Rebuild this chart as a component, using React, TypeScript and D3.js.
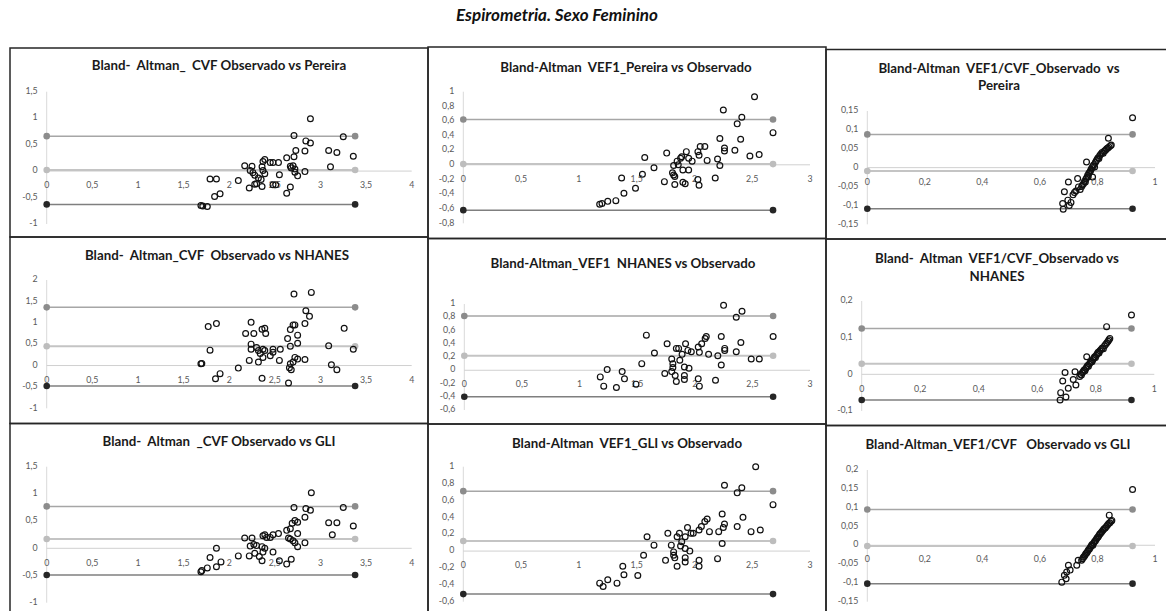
import React from "react";
import * as d3 from "d3";

type Pt = [number, number];

// ---- data: [mean, difference] pairs, and limits [upper LoA, mean diff, lower LoA] ----
const cvfPereira: Pt[] = [
  [2.89, 0.99], [2.71, 0.67], [3.25, 0.65], [2.84, 0.57], [2.89, 0.53], [2.73, 0.39], [2.83, 0.38],
  [3.09, 0.39], [3.18, 0.35], [3.36, 0.28], [2.63, 0.25], [2.71, 0.27], [3.11, 0.08], [2.67, 0.09],
  [2.68, 0.06], [2.7, 0.1], [2.72, 0.04], [2.83, -0.01], [2.75, -0.09], [2.72, -0.02], [2.17, 0.1],
  [2.25, 0.09], [2.37, 0.18], [2.39, 0.22], [2.45, 0.16], [2.48, 0.16], [2.54, 0.16], [2.23, 0.01],
  [2.26, -0.03], [2.28, -0.08], [2.32, -0.13], [2.36, 0.08], [2.37, 0.01], [2.39, -0.05], [2.35, -0.16],
  [2.3, -0.24], [2.28, -0.25], [2.22, -0.32], [2.36, -0.29], [2.1, -0.18], [2.48, -0.26], [2.51, -0.26],
  [2.55, -0.07], [2.67, -0.3], [2.63, -0.42], [1.79, -0.15], [1.86, -0.15], [1.84, -0.48], [1.9, -0.43],
  [1.69, -0.65], [1.71, -0.66], [1.76, -0.67],
];
const cvfPereiraLimits = [0.66, 0.02, -0.63];

const cvfNhanes: Pt[] = [
  [2.9, 1.71], [2.71, 1.67], [2.84, 1.28], [2.88, 1.15], [2.83, 0.98], [2.7, 0.95], [2.72, 0.95],
  [2.67, 0.84], [3.26, 0.87], [2.75, 0.71], [2.64, 0.63], [2.75, 0.52], [2.67, 0.45], [3.09, 0.46],
  [3.36, 0.38], [2.72, 0.19], [2.75, 0.15], [2.83, 0.14], [2.7, 0.08], [2.67, 0.04], [2.66, -0.05],
  [2.68, -0.1], [3.12, 0.02], [3.18, -0.1], [2.65, -0.41], [1.77, 0.91], [1.86, 0.98], [2.24, 1.01],
  [2.18, 0.75], [2.27, 0.75], [2.36, 0.85], [2.39, 0.87], [2.4, 0.75], [2.24, 0.5], [2.24, 0.38],
  [2.3, 0.42], [2.32, 0.35], [2.37, 0.38], [2.39, 0.35], [2.34, 0.28], [2.37, 0.19], [2.45, 0.23],
  [2.48, 0.31], [2.48, 0.38], [2.56, 0.38], [2.55, 0.12], [2.22, 0.12], [2.32, 0.08], [1.79, 0.36],
  [1.7, 0.05], [1.69, 0.04], [2.1, -0.06], [1.9, -0.19], [1.85, -0.31], [2.36, -0.3],
];
const cvfNhanesLimits = [1.36, 0.45, -0.48];

const cvfGli: Pt[] = [
  [2.9, 1.02], [2.71, 0.75], [3.25, 0.75], [2.84, 0.73], [2.89, 0.7], [2.83, 0.57], [2.72, 0.51],
  [2.75, 0.48], [2.69, 0.46], [3.09, 0.47], [3.18, 0.47], [3.36, 0.41], [2.63, 0.33], [2.67, 0.36],
  [2.75, 0.27], [3.13, 0.25], [2.65, 0.19], [2.67, 0.17], [2.7, 0.14], [2.72, 0.1], [2.83, 0.1],
  [2.75, 0.03], [2.17, 0.19], [2.25, 0.19], [2.37, 0.23], [2.39, 0.25], [2.41, 0.2], [2.45, 0.2],
  [2.48, 0.25], [2.54, 0.27], [2.23, 0.04], [2.27, 0.07], [2.3, 0.05], [2.36, 0.03], [2.39, 0.0],
  [2.37, -0.07], [2.33, -0.15], [2.28, -0.09], [2.22, -0.14], [2.36, -0.23], [2.1, -0.14], [2.48, -0.07],
  [2.55, -0.23], [2.63, -0.29], [2.68, -0.2], [1.86, 0.0], [1.79, -0.17], [1.91, -0.25], [1.86, -0.34],
  [1.76, -0.36], [1.7, -0.41], [1.69, -0.43],
];
const cvfGliLimits = [0.77, 0.17, -0.49];

const vef1Pereira: Pt[] = [
  [2.52, 0.93], [2.25, 0.75], [2.41, 0.65], [2.37, 0.56], [2.68, 0.44], [2.22, 0.36], [2.4, 0.35],
  [2.26, 0.23], [2.26, 0.19], [2.35, 0.2], [2.48, 0.12], [2.56, 0.14], [2.2, 0.08], [2.22, -0.01],
  [2.18, -0.18], [2.05, 0.25], [2.09, 0.25], [2.03, 0.18], [2.04, 0.13], [2.11, 0.06], [1.93, 0.18],
  [1.88, 0.09], [1.89, 0.11], [1.95, 0.09], [1.98, 0.05], [1.85, 0.05], [1.86, 0.0], [1.82, -0.01],
  [1.9, -0.07], [1.95, -0.07], [1.81, -0.11], [1.82, -0.14], [1.83, -0.16], [2.03, -0.2], [1.9, -0.24],
  [1.92, -0.26], [1.83, -0.27], [1.74, -0.23], [2.04, -0.28], [1.76, 0.16], [1.57, 0.1], [1.65, -0.04],
  [1.55, -0.13], [1.37, -0.18], [1.49, -0.32], [1.39, -0.39], [1.32, -0.49], [1.25, -0.5], [1.2, -0.53],
  [1.18, -0.54],
];
const vef1PereiraLimits = [0.62, 0.01, -0.62];

const vef1Nhanes: Pt[] = [
  [2.25, 0.98], [2.41, 0.89], [2.36, 0.8], [2.68, 0.51], [2.23, 0.51], [2.1, 0.51], [2.09, 0.48],
  [2.06, 0.4], [2.03, 0.35], [2.4, 0.42], [2.26, 0.33], [2.26, 0.3], [2.36, 0.28], [2.12, 0.24],
  [2.2, 0.22], [2.23, 0.08], [2.49, 0.17], [2.56, 0.17], [2.18, -0.15], [2.04, 0.27], [1.97, 0.28],
  [1.92, 0.4], [1.86, 0.33], [1.84, 0.33], [1.76, 0.4], [1.94, 0.3], [1.89, 0.24], [1.87, 0.15],
  [1.8, 0.17], [1.81, 0.1], [1.81, 0.04], [1.8, -0.02], [1.91, 0.05], [1.95, 0.03], [1.74, -0.05],
  [1.83, -0.08], [1.84, -0.17], [1.91, -0.08], [1.91, -0.14], [2.03, -0.13], [2.04, -0.24], [1.58, 0.53],
  [1.65, 0.26], [1.54, 0.1], [1.24, 0.01], [1.37, -0.02], [1.18, -0.1], [1.39, -0.13], [1.21, -0.24],
  [1.32, -0.26], [1.49, -0.21],
];
const vef1NhanesLimits = [0.82, 0.22, -0.4];

const vef1Gli: Pt[] = [
  [2.53, 1.0], [2.26, 0.78], [2.41, 0.75], [2.37, 0.69], [2.68, 0.55], [2.24, 0.44], [2.42, 0.4],
  [2.26, 0.32], [2.25, 0.28], [2.37, 0.29], [2.49, 0.23], [2.57, 0.25], [2.21, 0.23], [2.13, 0.23],
  [2.24, 0.09], [2.2, -0.09], [2.11, 0.38], [2.09, 0.35], [2.06, 0.29], [2.04, 0.25], [1.99, 0.21],
  [1.97, 0.21], [1.94, 0.28], [1.92, 0.17], [1.87, 0.21], [1.85, 0.17], [1.77, 0.21], [1.89, 0.11],
  [1.88, 0.06], [1.8, 0.07], [1.82, -0.01], [1.82, -0.05], [1.83, -0.08], [1.92, 0.03], [1.96, 0.0],
  [1.92, -0.08], [1.92, -0.13], [1.85, -0.18], [1.75, -0.11], [2.04, -0.11], [2.04, -0.18], [1.59, 0.17],
  [1.65, 0.07], [1.56, -0.05], [1.38, -0.18], [1.39, -0.28], [1.51, -0.29], [1.25, -0.34], [1.18, -0.38],
  [1.21, -0.42], [1.33, -0.38],
];
const vef1GliLimits = [0.71, 0.12, -0.51];

const ratioPereira: Pt[] = [
  [0.922, 0.132], [0.838, 0.078], [0.699, -0.038], [0.685, -0.064], [0.697, -0.086], [0.702, -0.1],
  [0.679, -0.095], [0.681, -0.11], [0.762, 0.015], [0.731, -0.029], [0.734, -0.051], [0.783, -0.025],
  [0.715, -0.072], [0.72, -0.066], [0.725, -0.062], [0.708, -0.092],
  [0.74, -0.058], [0.745, -0.05], [0.748, -0.046], [0.752, -0.042], [0.755, -0.036], [0.758, -0.038],
  [0.76, -0.03], [0.763, -0.026], [0.766, -0.02], [0.768, -0.024], [0.77, -0.015], [0.773, -0.012],
  [0.776, -0.008], [0.778, -0.004], [0.781, 0.0], [0.784, 0.004], [0.787, 0.008], [0.79, 0.002],
  [0.793, 0.014], [0.796, 0.018], [0.799, 0.022], [0.802, 0.026], [0.805, 0.024], [0.808, 0.032],
  [0.812, 0.036], [0.816, 0.04], [0.82, 0.038], [0.824, 0.044], [0.828, 0.046], [0.832, 0.05],
  [0.836, 0.052], [0.84, 0.055], [0.845, 0.058], [0.848, 0.06],
];
const ratioPereiraLimits = [0.088, -0.009, -0.109];

const ratioNhanes: Pt[] = [
  [0.922, 0.162], [0.837, 0.13], [0.695, 0.005], [0.687, -0.018], [0.706, -0.038], [0.68, -0.05],
  [0.698, -0.062], [0.678, -0.07], [0.723, -0.014], [0.732, -0.029], [0.729, 0.007], [0.769, 0.048],
  [0.745, -0.006], [0.748, 0.0], [0.751, -0.002], [0.754, 0.004], [0.757, 0.008], [0.76, 0.012],
  [0.763, 0.01], [0.766, 0.016], [0.769, 0.02], [0.772, 0.024], [0.775, 0.022], [0.778, 0.028],
  [0.781, 0.032], [0.784, 0.036], [0.787, 0.034], [0.79, 0.04], [0.793, 0.044], [0.796, 0.048],
  [0.799, 0.046], [0.802, 0.052], [0.805, 0.056], [0.808, 0.06], [0.811, 0.058], [0.814, 0.064],
  [0.818, 0.068], [0.822, 0.072], [0.826, 0.07], [0.83, 0.078], [0.834, 0.082], [0.838, 0.086],
  [0.842, 0.09], [0.845, 0.094], [0.848, 0.098],
];
const ratioNhanesLimits = [0.125, 0.029, -0.07];

const ratioGli: Pt[] = [
  [0.922, 0.148], [0.841, 0.08], [0.676, -0.098], [0.685, -0.08], [0.699, -0.053], [0.693, -0.071],
  [0.705, -0.066], [0.728, -0.053], [0.733, -0.04], [0.691, -0.089],
  [0.745, -0.04], [0.748, -0.036], [0.751, -0.032], [0.754, -0.03], [0.757, -0.026], [0.76, -0.022],
  [0.763, -0.02], [0.766, -0.016], [0.769, -0.012], [0.772, -0.01], [0.775, -0.006], [0.778, -0.002],
  [0.781, 0.002], [0.784, 0.0], [0.787, 0.006], [0.79, 0.01], [0.793, 0.012], [0.796, 0.016],
  [0.799, 0.02], [0.802, 0.022], [0.805, 0.026], [0.808, 0.03], [0.811, 0.032], [0.815, 0.036],
  [0.819, 0.04], [0.823, 0.044], [0.827, 0.046], [0.831, 0.05], [0.835, 0.054], [0.839, 0.058],
  [0.843, 0.06], [0.847, 0.064], [0.85, 0.066],
];
const ratioGliLimits = [0.095, -0.002, -0.102];

// ---- tick labels ----
const cvfXTicks = [0, 0.5, 1, 1.5, 2, 2.5, 3, 3.5, 4];
const vef1XTicks = [0, 0.5, 1, 1.5, 2, 2.5, 3];
const ratioXTicks = [0, 0.2, 0.4, 0.6, 0.8, 1];
const cvfYTicks = [-1, -0.5, 0, 0.5, 1, 1.5];
const cvfNhanesYTicks = [-1, -0.5, 0, 0.5, 1, 1.5, 2];
const vef1YTicks = [-0.8, -0.6, -0.4, -0.2, 0, 0.2, 0.4, 0.6, 0.8, 1];
const vef1LowYTicks = [-0.6, -0.4, -0.2, 0, 0.2, 0.4, 0.6, 0.8, 1];
const ratioYTicks = [-0.15, -0.1, -0.05, 0, 0.05, 0.1, 0.15];
const ratioNhanesYTicks = [-0.1, 0, 0.1, 0.2];
const ratioGliYTicks = [-0.15, -0.1, -0.05, 0, 0.05, 0.1, 0.15, 0.2];

const mainTitle = "Espirometria. Sexo Feminino";

interface PanelSpec {
  title: string[];
  tx: number;
  ty: number;
  data: Pt[];
  limits: number[];
  limitEnd: number;
  xDomain: [number, number];
  yDomain: [number, number];
  xTicks: number[];
  yTicks: number[];
  xRange: [number, number];
  yRange: [number, number];
}

const panels: PanelSpec[] = [
  { title: ["Bland-  Altman_  CVF Observado vs Pereira"], tx: 219, ty: 67, data: cvfPereira, limits: cvfPereiraLimits, limitEnd: 3.38, xDomain: [0, 4], yDomain: [-1, 1.5], xTicks: cvfXTicks, yTicks: cvfYTicks, xRange: [46.7, 411.7], yRange: [224, 91.7] },
  { title: ["Bland-  Altman_CVF  Observado vs NHANES"], tx: 217, ty: 257, data: cvfNhanes, limits: cvfNhanesLimits, limitEnd: 3.38, xDomain: [0, 4], yDomain: [-1, 2], xTicks: cvfXTicks, yTicks: cvfNhanesYTicks, xRange: [46.7, 411.7], yRange: [408.3, 280] },
  { title: ["Bland-  Altman  _CVF Observado vs GLI"], tx: 219, ty: 443, data: cvfGli, limits: cvfGliLimits, limitEnd: 3.38, xDomain: [0, 4], yDomain: [-1, 1.5], xTicks: cvfXTicks, yTicks: cvfYTicks, xRange: [46.7, 411.7], yRange: [602.7, 466.7] },
  { title: ["Bland-Altman  VEF1_Pereira vs Observado"], tx: 626, ty: 68.5, data: vef1Pereira, limits: vef1PereiraLimits, limitEnd: 2.68, xDomain: [0, 3], yDomain: [-0.8, 1], xTicks: vef1XTicks, yTicks: vef1YTicks, xRange: [463.3, 810], yRange: [223.3, 91.7] },
  { title: ["Bland-Altman_VEF1  NHANES vs Observado"], tx: 623, ty: 265, data: vef1Nhanes, limits: vef1NhanesLimits, limitEnd: 2.68, xDomain: [0, 3], yDomain: [-0.6, 1], xTicks: vef1XTicks, yTicks: vef1LowYTicks, xRange: [464.3, 810], yRange: [410, 304] },
  { title: ["Bland-Altman  VEF1_GLI vs Observado"], tx: 627, ty: 444.5, data: vef1Gli, limits: vef1GliLimits, limitEnd: 2.68, xDomain: [0, 3], yDomain: [-0.6, 1], xTicks: vef1XTicks, yTicks: vef1LowYTicks, xRange: [463.3, 810], yRange: [601.7, 466.7] },
  { title: ["Bland-Altman  VEF1/CVF_Observado  vs", "Pereira"], tx: 999, ty: 69.5, data: ratioPereira, limits: ratioPereiraLimits, limitEnd: 0.922, xDomain: [0, 1], yDomain: [-0.15, 0.15], xTicks: ratioXTicks, yTicks: ratioYTicks, xRange: [867.3, 1155], yRange: [224.3, 111] },
  { title: ["Bland-  Altman  VEF1/CVF_Observado vs", "NHANES"], tx: 997, ty: 260, data: ratioNhanes, limits: ratioNhanesLimits, limitEnd: 0.922, xDomain: [0, 1], yDomain: [-0.1, 0.2], xTicks: ratioXTicks, yTicks: ratioNhanesYTicks, xRange: [861.7, 1154.3], yRange: [411, 301] },
  { title: ["Bland-Altman_VEF1/CVF   Observado vs GLI"], tx: 998, ty: 446, data: ratioGli, limits: ratioGliLimits, limitEnd: 0.922, xDomain: [0, 1], yDomain: [-0.15, 0.2], xTicks: ratioXTicks, yTicks: ratioGliYTicks, xRange: [867.3, 1155], yRange: [601.7, 470] },
];

// panel frames [x0, y0, x1, y1]
const frames: [number, number, number, number][] = [
  [10, 48, 428, 237], [10, 237, 428, 423.5], [10, 423.5, 428, 620],
  [428, 47, 826, 238.5], [428, 238.5, 826, 424], [428, 424, 826, 620],
  [826, 49.5, 1175, 239], [826, 239, 1175, 425.5], [826, 425.5, 1175, 620],
];

const FONT = "Lato, 'Open Sans', 'Liberation Sans', sans-serif";
const fmt = (v: number) => String(+v.toFixed(3)).replace(".", ",");

const limitStyles = [
  { line: "#a6a6a6", width: 1.5, dot: "#8c8c8c" },
  { line: "#c4c4c4", width: 2, dot: "#bdbdbd" },
  { line: "#7f7f7f", width: 1.5, dot: "#262626" },
];

function Panel({ p }: { p: PanelSpec }) {
  const x = d3.scaleLinear().domain(p.xDomain).range(p.xRange);
  const y = d3.scaleLinear().domain(p.yDomain).range(p.yRange);
  const x0 = x(0);
  const y0 = y(0);
  return (
    <g>
      {p.title.map((t, i) => (
        <text key={i} x={p.tx} y={p.ty + i * 17.5} textAnchor="middle" dominantBaseline="middle"
          fontFamily={FONT} fontWeight={700} fontSize={13.3} fill="#1a1a1a"
          style={{ whiteSpace: "pre" }}>{t}</text>
      ))}
      {/* axes */}
      <line x1={x0} x2={x0} y1={y(p.yDomain[0])} y2={y(p.yDomain[1])} stroke="#d9d9d9" strokeWidth={1} />
      <line x1={x(p.xDomain[0])} x2={x(p.xDomain[1])} y1={y0} y2={y0} stroke="#d0d0d0" strokeWidth={1} />
      {p.yTicks.map((t) => (
        <text key={"y" + t} x={x0 - 9} y={y(t)} textAnchor="end" dominantBaseline="middle"
          fontFamily={FONT} fontSize={8.8} fill="#595959">{fmt(t)}</text>
      ))}
      {p.xTicks.map((t) => (
        <text key={"x" + t} x={x(t)} y={y0 + 15} textAnchor="middle" dominantBaseline="middle"
          fontFamily={FONT} fontSize={8.8} fill="#595959">{fmt(t)}</text>
      ))}
      {/* limits of agreement and mean difference */}
      {p.limits.map((v, i) => (
        <g key={"l" + i}>
          <line x1={x(0)} x2={x(p.limitEnd)} y1={y(v)} y2={y(v)} stroke={limitStyles[i].line} strokeWidth={limitStyles[i].width} />
          <circle cx={x(0)} cy={y(v)} r={3.3} fill={limitStyles[i].dot} />
          <circle cx={x(p.limitEnd)} cy={y(v)} r={3.3} fill={limitStyles[i].dot} />
        </g>
      ))}
      {/* observations */}
      {p.data.map((d, i) => (
        <circle key={"p" + i} cx={x(d[0])} cy={y(d[1])} r={2.9} fill="none" stroke="#111" strokeWidth={1.2} />
      ))}
    </g>
  );
}

export default function App() {
  return (
    <svg width={1166} height={611} style={{ position: "absolute", left: 0, top: 0, background: "#fff" }}>
      <rect x={0} y={0} width={1166} height={611} fill="#fff" />
      <text x={557} y={16.5} textAnchor="middle" dominantBaseline="middle" fontFamily={FONT}
        fontWeight={700} fontStyle="italic" fontSize={17} fill="#111">{mainTitle}</text>
      {panels.map((p, i) => <Panel key={i} p={p} />)}
      {frames.map((f, i) => (
        <rect key={"f" + i} x={f[0]} y={f[1]} width={f[2] - f[0]} height={f[3] - f[1]}
          fill="none" stroke="#262626" strokeWidth={1.5} />
      ))}
    </svg>
  );
}
